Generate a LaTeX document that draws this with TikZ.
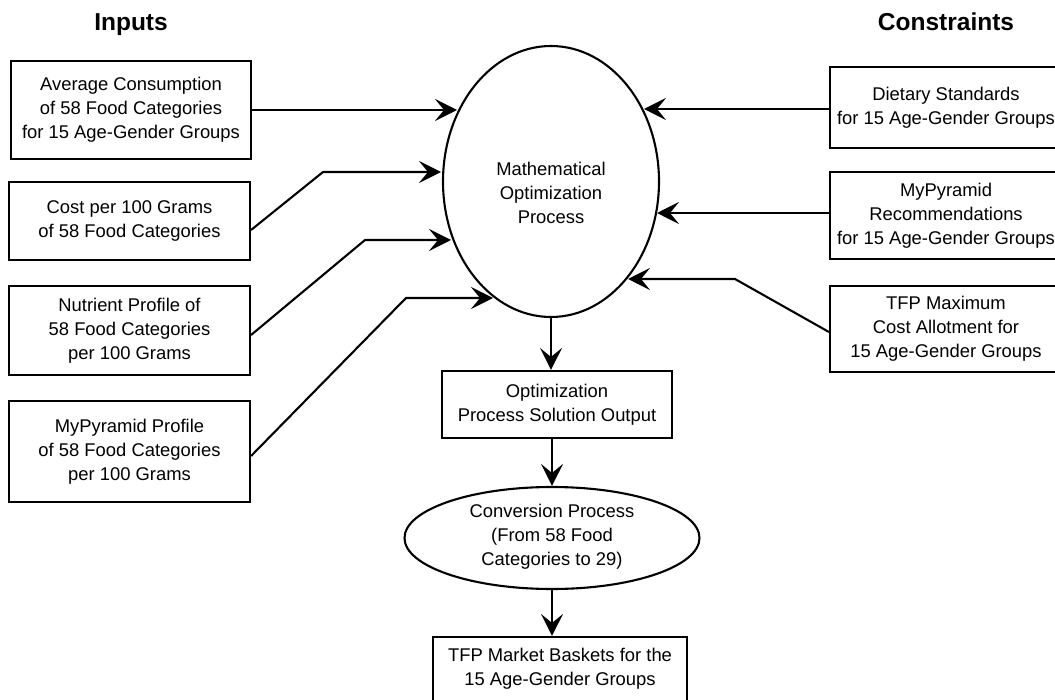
\documentclass[tikz,border=0pt]{standalone}
\usepackage{fontspec}
\setmainfont{Liberation Sans}
\usetikzlibrary{arrows.meta,shapes.geometric}
\begin{document}
\begin{tikzpicture}[x=1pt,y=-1pt,
  box/.style={draw, line width=2.1pt, align=center, inner sep=0pt, font=\fontsize{18.4}{23.8}\selectfont},
  oval/.style={ellipse, draw, line width=2.1pt, inner sep=0pt},
  lbl/.style={align=center, inner sep=0pt, font=\fontsize{18.4}{23.8}\selectfont},
  head/.style={inner sep=0pt, anchor=base, font=\fontsize{24.5}{28}\selectfont\bfseries},
  conn/.style={line width=2.1pt, -{Stealth[length=22pt,width=22pt,inset=9pt]}}]
\useasboundingbox (0,0) rectangle (1055,700);

% headings
\node[head] (hin) at (131,31) {Inputs};
\node[head] (hcon) at (946,31) {Constraints};

% input boxes
\node[box, minimum width=240pt, minimum height=98pt] (b1) at (131,110)
  {Average Consumption\\of 58 Food Categories\\for 15 Age-Gender Groups};
\node[box, minimum width=241pt, minimum height=78pt] (b2) at (129.5,221)
  {Cost per 100 Grams\\of 58 Food Categories};
\node[box, minimum width=241pt, minimum height=89pt] (b3) at (129.5,330.5)
  {Nutrient Profile of\\58 Food Categories\\per 100 Grams};
\node[box, minimum width=241pt, minimum height=101pt] (b4) at (129.5,451.5)
  {MyPyramid Profile\\of 58 Food Categories\\per 100 Grams};

% central optimization ellipse
\node[oval, minimum width=216pt, minimum height=271pt] (mop) at (551,181.5) {};
\node[lbl] (mopt) at (551,193) {Mathematical\\Optimization\\Process};

% constraint boxes
\node[box, minimum width=232pt, minimum height=81pt] (r1) at (946,107.5)
  {Dietary Standards\\for 15 Age-Gender Groups};
\node[box, minimum width=232pt, minimum height=87pt] (r2) at (946,215.5)
  {MyPyramid\\Recommendations\\for 15 Age-Gender Groups};
\node[box, minimum width=232pt, minimum height=86pt] (r3) at (946,329)
  {TFP Maximum\\Cost Allotment for\\15 Age-Gender Groups};

% output chain
\node[box, minimum width=230pt, minimum height=67pt] (opt) at (557,404.5)
  {Optimization\\Process Solution Output};
\node[oval, minimum width=295pt, minimum height=102pt] (conv) at (552,538) {};
\node[lbl] (convt) at (552,537) {Conversion Process\\(From 58 Food\\Categories to 29)};
\node[box, minimum width=254pt, minimum height=66pt] (fin) at (560,670) {};
\node[lbl] (fint) at (560,669) {TFP Market Baskets for the\\15 Age-Gender Groups};

% coordinates on the ellipse border and bends
\coordinate (t1) at (457,110);
\coordinate (k2) at (323,172);
\coordinate (t2) at (441,172);
\coordinate (k3) at (365,240);
\coordinate (t3) at (451,240);
\coordinate (k4) at (406,298);
\coordinate (t4) at (493,298);
\coordinate (s1) at (644,109);
\coordinate (s2) at (657,213);
\coordinate (k6) at (735,279);
\coordinate (s3) at (628,279);

% input arrows
\draw[conn] (b1.east) -- (t1);
\draw[conn] ([yshift=-9pt]b2.east) -- (k2) -- (t2);
\draw[conn] ([yshift=-4.5pt]b3.east) -- (k3) -- (t3);
\draw[conn] ([yshift=-4.5pt]b4.east) -- (k4) -- (t4);

% constraint arrows
\draw[conn] ([yshift=-1.5pt]r1.west) -- (s1);
\draw[conn] ([yshift=2.5pt]r2.west) -- (s2);
\draw[conn] ([yshift=-3pt]r3.west) -- (k6) -- (s3);

% vertical chain
\draw[conn] (mop.south) -- (mop.south |- opt.north);
\draw[conn] (conv.north |- opt.south) -- (conv.north);
\draw[conn] (conv.south) -- (conv.south |- fin.north);
\end{tikzpicture}
\end{document}
